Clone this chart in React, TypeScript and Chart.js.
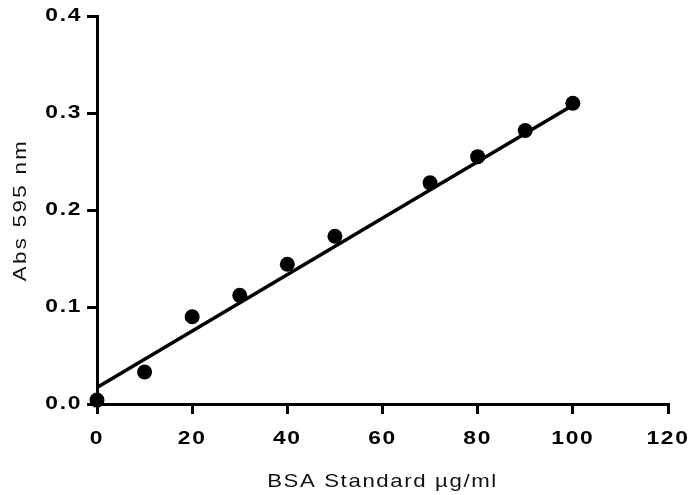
import React, { useEffect, useRef } from 'react';
import { Chart, registerables } from 'chart.js';

Chart.register(...registerables);

// Data
const concentrations = [0, 10, 20, 30, 40, 50, 70, 80, 90, 100];
const absorbance = [0.004, 0.033, 0.09, 0.112, 0.144, 0.173, 0.228, 0.255, 0.282, 0.31];
const fitX = [0, 100];
const fitY = [0.017, 0.308];

const xTitle = 'BSA Standard µg/ml';
const yTitle = 'Abs 595 nm';

const W = 691;
const H = 495;
const SX = 1.2; // horizontal text stretch

const FONT = "'Liberation Sans', Arial, sans-serif";

export default function App() {
  const ref = useRef<HTMLCanvasElement | null>(null);

  useEffect(() => {
    const canvas = ref.current!;
    const ctx = canvas.getContext('2d') as any;
    const origFill = CanvasRenderingContext2D.prototype.fillText;
    ctx.fillText = function (text: string, x: number, y: number) {
      this.save();
      let sp = '1.4px';
      if (!/bold/.test(this.font)) sp = text === yTitle ? '2px' : '1.35px';
      this.letterSpacing = sp;
      this.translate(x, y);
      this.scale(SX, 1);
      origFill.call(this, text, 0, 0);
      this.restore();
    };

    const chart = new Chart(canvas, {
      type: 'scatter',
      data: {
        datasets: [
          {
            data: fitX.map((x, i) => ({ x, y: fitY[i] })),
            showLine: true,
            borderColor: '#000',
            borderWidth: 3.5,
            pointRadius: 0,
            clip: false as any,
          },
          {
            data: concentrations.map((x, i) => ({ x, y: absorbance[i] })),
            showLine: false,
            backgroundColor: '#000',
            borderColor: '#000',
            borderWidth: 0,
            pointRadius: 7.5,
            clip: false as any,
          },
        ],
      },
      options: {
        responsive: false,
        animation: false,
        layout: { padding: { top: 16, right: 23, bottom: 0, left: 0 }, autoPadding: false } as any,
        plugins: { legend: { display: false }, tooltip: { enabled: false } },
        scales: {
          x: {
            type: 'linear',
            min: 0,
            max: 120,
            ticks: {
              stepSize: 20,
              color: '#000',
              font: { family: FONT, size: 19, weight: 'bold' },
              padding: 13,
              maxRotation: 0,
            },
            grid: {
              display: true,
              drawOnChartArea: false,
              drawTicks: true,
              tickLength: 10,
              lineWidth: 3,
              tickWidth: 3,
              tickColor: '#000',
              color: '#000',
            },
            border: { display: true, color: '#000', width: 3 },
            title: {
              display: true,
              text: xTitle,
              color: '#111',
              font: { family: FONT, size: 18.5, weight: 'normal' },
              padding: { top: 0, bottom: 2 },
            },
            afterFit: (s: any) => {
              s.height = H - 404;
              s.paddingLeft = 0;
              s.paddingRight = 0;
            },
          },
          y: {
            type: 'linear',
            min: 0,
            max: 0.4,
            ticks: {
              stepSize: 0.1,
              color: '#000',
              font: { family: FONT, size: 19, weight: 'bold' },
              padding: 5,
              callback: (v: any) => Number(v).toFixed(1),
            },
            grid: {
              display: true,
              drawOnChartArea: false,
              drawTicks: true,
              tickLength: 10,
              lineWidth: 3,
              tickWidth: 3,
              tickColor: '#000',
              color: '#000',
            },
            border: { display: true, color: '#000', width: 3 },
            title: {
              display: true,
              text: yTitle,
              color: '#111',
              font: { family: FONT, size: 18.5, weight: 'normal' },
              padding: { top: 10, bottom: 0 },
            },
            afterFit: (s: any) => {
              s.width = 97;
              s.paddingTop = 0;
              s.paddingBottom = 0;
            },
          },
        },
      },
    });

    return () => chart.destroy();
  }, []);

  return (
    <div style={{ position: 'fixed', left: 0, top: 0, width: W, height: H, background: '#fff' }}>
      <canvas ref={ref} width={W} height={H} style={{ width: W, height: H, display: 'block' }} />
    </div>
  );
}
